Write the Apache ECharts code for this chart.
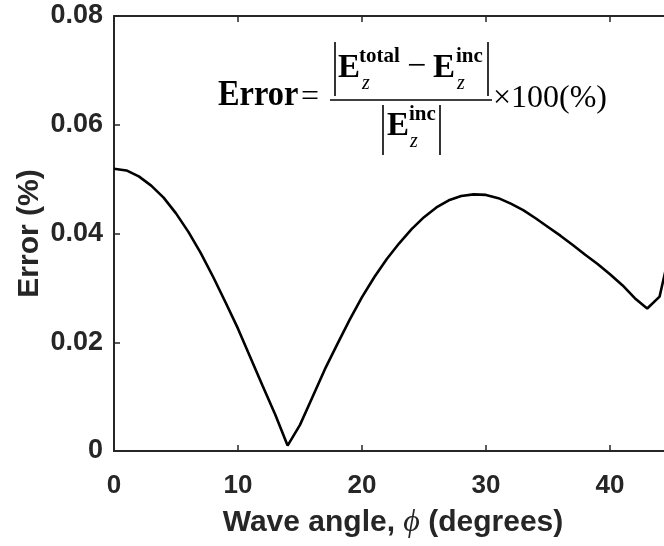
<!DOCTYPE html>
<html>
<head>
<meta charset="utf-8">
<script src="https://cdn.jsdelivr.net/npm/echarts@6/dist/echarts.min.js"></script>
<style>
  html, body { margin: 0; padding: 0; background: #fff; }
  #chart { width: 664px; height: 546px; }
</style>
</head>
<body>
<div id="chart"></div>
<script>
// Wave angle (degrees) and relative field error (%)
const waveAngle = [0, 1, 2, 3, 4, 5, 6, 7, 8, 9, 10, 11, 12, 13, 14, 15, 16, 17, 18, 19, 20,
  21, 22, 23, 24, 25, 26, 27, 28, 29, 30, 31, 32, 33, 34, 35, 36, 37, 38, 39, 40,
  41, 42, 43, 44, 45];
const errorPct = [0.0519, 0.0516, 0.0505, 0.0488, 0.0466, 0.0437, 0.0403, 0.0364, 0.0320, 0.0273, 0.0225,
  0.0172, 0.0119, 0.0067, 0.0010, 0.0048, 0.0099, 0.0150, 0.0196, 0.0241, 0.0283,
  0.0320, 0.0353, 0.0382, 0.0408, 0.0430, 0.0448, 0.0461, 0.0469, 0.0472, 0.0471,
  0.0465, 0.0455, 0.0443, 0.0428, 0.0412, 0.0396, 0.0379, 0.0361, 0.0344, 0.0325,
  0.0305, 0.0281, 0.0262, 0.0284, 0.0385];

const xTickLabels = ['0', '10', '20', '30', '40'];
const yTickLabels = ['0', '0.02', '0.04', '0.06', '0.08'];

const axisColor = '#262626';
const sans = '"Liberation Sans", Arial, sans-serif';
const serif = '"Liberation Serif", "Times New Roman", serif';

const chart = echarts.init(document.getElementById('chart'), null, { renderer: 'canvas' });

// Text pieces of the error formula; base is the baseline
function txt(text, x, base, size, weight, style, sx) {
  return {
    type: 'text', x: x, y: base - size * 0.34, silent: true,
    scaleX: sx || 1,
    style: {
      text: text, fill: '#000',
      font: (style || 'normal') + ' ' + (weight || 'normal') + ' ' + size + 'px ' + serif,
      align: 'left', verticalAlign: 'middle'
    }
  };
}
function bar(x1, y1, x2, y2) {
  return {
    type: 'line', silent: true,
    shape: { x1: x1, y1: y1, x2: x2, y2: y2 },
    style: { stroke: '#000', lineWidth: 1.6 }
  };
}

const formula = [
  txt('Error', 218, 108, 36, 'bold', null, 0.9),
  txt('=', 301, 108, 32),
  // numerator
  bar(335, 42, 335, 96),
  txt('E', 338, 80, 33, 'bold'),
  txt('total', 359, 64, 21, 'bold'),
  txt('z', 362, 91, 20, 'normal', 'italic'),
  txt('\u2212', 407, 79, 34),
  txt('E', 433, 80, 33, 'bold'),
  txt('inc', 456, 64, 21, 'bold'),
  txt('z', 457, 91, 20, 'normal', 'italic'),
  bar(488, 42, 488, 96),
  // fraction line
  bar(330, 100, 492, 100),
  // denominator
  bar(383, 105, 383, 155),
  txt('E', 387, 138, 33, 'bold'),
  txt('inc', 409, 122, 21, 'bold'),
  txt('z', 410, 149, 20, 'normal', 'italic'),
  bar(440, 105, 440, 155),
  txt('\u00d7100(%)', 493, 109, 32)
];

const option = {
  animation: false,
  backgroundColor: '#fff',
  grid: { left: 114, top: 16, width: 558, height: 435, containLabel: false, outerBoundsMode: 'none' },
  xAxis: [{
    type: 'value', min: 0, max: 45, interval: 10, position: 'bottom',
    name: '{a|Wave angle, }{p|\u03d5}{a| (degrees)}', nameLocation: 'middle', nameGap: 56,
    nameTextStyle: {
      rich: {
        a: { fontFamily: sans, fontWeight: 'bold', fontSize: 30, color: axisColor },
        p: { fontFamily: serif, fontStyle: 'italic', fontSize: 32, color: axisColor }
      }
    },
    axisLine: { show: true, onZero: false, lineStyle: { color: axisColor, width: 2 } },
    axisTick: { show: true, inside: true, length: 6, lineStyle: { color: axisColor, width: 1.5 } },
    axisLabel: {
      margin: 22, fontFamily: sans, fontWeight: 'bold', fontSize: 26, color: axisColor,
      formatter: v => xTickLabels[Math.round(v / 10)] ?? ''
    },
    splitLine: { show: false }
  }, {
    type: 'value', min: 0, max: 45, interval: 10, position: 'top',
    axisLine: { show: true, onZero: false, lineStyle: { color: axisColor, width: 2 } },
    axisTick: { show: true, inside: true, length: 6, lineStyle: { color: axisColor, width: 1.5 } },
    axisLabel: { show: false },
    splitLine: { show: false }
  }],
  yAxis: [{
    type: 'value', min: 0, max: 0.08, interval: 0.02, position: 'left',
    name: 'Error (%)', nameLocation: 'middle', nameGap: 69, nameRotate: 90,
    nameMoveOverlap: false,
    nameTextStyle: { fontFamily: sans, fontWeight: 'bold', fontSize: 30, color: axisColor },
    axisLine: { show: true, onZero: false, lineStyle: { color: axisColor, width: 2 } },
    axisTick: { show: true, inside: true, length: 6, lineStyle: { color: axisColor, width: 1.5 } },
    axisLabel: {
      margin: 11, fontFamily: sans, fontWeight: 'bold', fontSize: 27, color: axisColor,
      formatter: v => yTickLabels[Math.round(v / 0.02)] ?? ''
    },
    splitLine: { show: false }
  }],
  series: [{
    type: 'line',
    data: waveAngle.map((a, i) => [a, errorPct[i]]),
    showSymbol: false, smooth: false, clip: true,
    lineStyle: { color: '#000', width: 2.6 }
  }],
  graphic: formula
};

chart.setOption(option);
</script>
</body>
</html>
